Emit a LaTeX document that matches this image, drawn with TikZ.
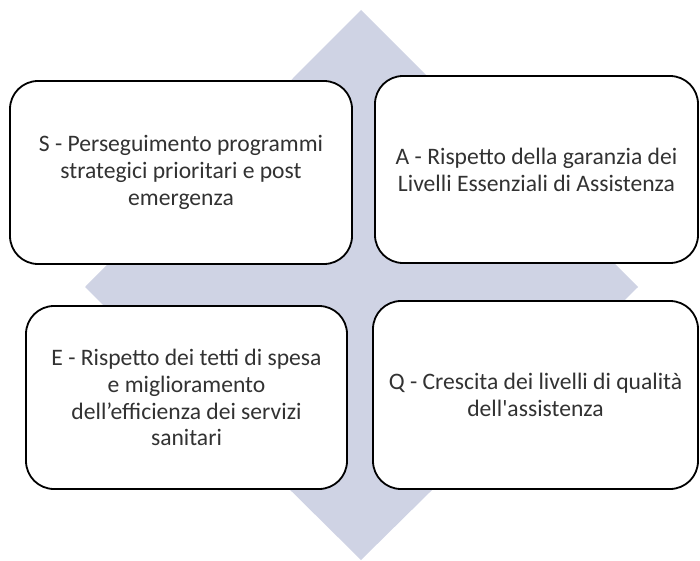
\documentclass[tikz,border=0pt]{standalone}
\usepackage{fontspec}
\setmainfont{Carlito}
\definecolor{diamondfill}{RGB}{207,211,228}
\definecolor{textgrey}{RGB}{50,50,50}

\begin{document}
\begin{tikzpicture}[x=1pt, y=-1pt]
\tikzstyle{every node}=[align=center, text=textgrey, font=\fontsize{23.6}{26.8}\selectfont]
\tikzstyle{goalbox}=[draw=black, line width=1.8pt, fill=white, rounded corners=28pt, inner sep=0pt]
\useasboundingbox (0,0) rectangle (700,561);
% diamond behind the boxes
\fill[diamondfill] (361,10) -- (638,287) -- (361,560) -- (85,287) -- cycle;
% the four boxes
\node[goalbox, minimum width=342pt, minimum height=183pt] (s) at (181,172.5)
	{S - Perseguimento programmi\\strategici prioritari e post\\emergenza};
\node[goalbox, minimum width=323pt, minimum height=187pt] (a) at (536.5,169.5)
	{A - Rispetto della garanzia dei\\Livelli Essenziali di Assistenza};
\node[goalbox, minimum width=321pt, minimum height=183pt] (e) at (186.5,397.5)
	{E - Rispetto dei tetti di spesa\\e miglioramento\\dell’efficienza dei servizi\\sanitari};
\node[goalbox, minimum width=325pt, minimum height=188pt] (q) at (535.5,395)
	{Q - Crescita dei livelli di qualità\\dell\textquotesingle assistenza};
\end{tikzpicture}
\end{document}
